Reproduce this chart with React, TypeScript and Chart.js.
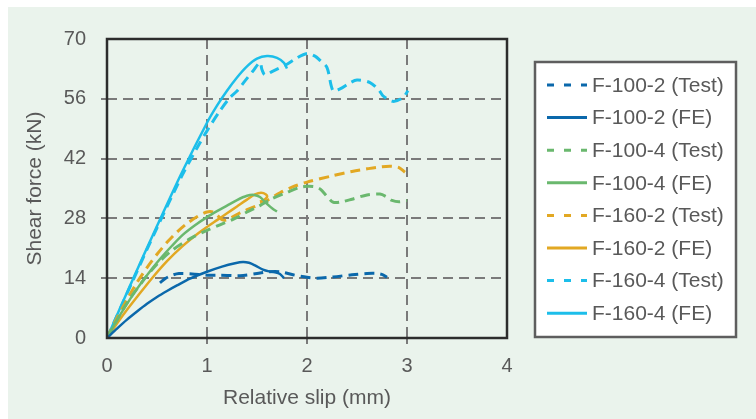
import { useEffect, useRef } from "react";
import { Chart, registerables } from "chart.js";
Chart.register(...registerables);

const xTitle = "Relative slip (mm)";
const yTitle = "Shear force (kN)";
const yTickValues = [0, 14, 28, 42, 56, 70];
const xTickValues = [0, 1, 2, 3, 4];

const seriesNames = [
  "F-100-2 (Test)", "F-100-2 (FE)",
  "F-100-4 (Test)", "F-100-4 (FE)",
  "F-160-2 (Test)", "F-160-2 (FE)",
  "F-160-4 (Test)", "F-160-4 (FE)",
];
const seriesColors = ["#0B68AB", "#0B68AB", "#6AB86E", "#6AB86E", "#E2A823", "#E2A823", "#1CBEEA", "#1CBEEA"];
const seriesDashed = [true, false, true, false, true, false, true, false];

const slip100_2T = [0.53, 0.58, 0.65, 0.72, 0.85, 1.0, 1.13, 1.33, 1.5, 1.62, 1.73, 1.86, 2.0, 2.1, 2.26, 2.45, 2.6, 2.7, 2.76, 2.8];
const force100_2T = [12.9, 13.9, 14.7, 15.1, 15.0, 14.7, 14.7, 14.6, 15.1, 15.5, 15.5, 14.8, 14.2, 14.0, 14.3, 14.8, 15.1, 15.1, 14.8, 14.2];
const slip100_2F = [0, 0.1, 0.2, 0.3, 0.4, 0.5, 0.6, 0.7, 0.83, 1.0, 1.15, 1.28, 1.36, 1.42, 1.48, 1.56, 1.62, 1.68, 1.73, 1.77];
const force100_2F = [0, 2.2, 4.3, 6.2, 8.0, 9.6, 11.0, 12.3, 13.9, 15.5, 16.7, 17.5, 17.8, 17.6, 17.0, 16.0, 15.6, 15.4, 15.0, 14.0];

const slip100_4T = [0, 0.1, 0.2, 0.38, 0.5, 0.65, 0.85, 1.0, 1.13, 1.28, 1.4, 1.53, 1.65, 1.8, 1.92, 2.0, 2.08, 2.13, 2.2, 2.26, 2.33, 2.45, 2.6, 2.73, 2.8, 2.85, 2.92, 3.0];
const force100_4T = [0, 4.2, 8.2, 14.0, 17.3, 20.5, 23.5, 25.2, 26.5, 28.0, 29.5, 31.0, 32.6, 34.1, 35.2, 35.5, 35.4, 34.9, 33.2, 31.8, 31.8, 32.5, 33.5, 33.7, 33.0, 32.2, 31.9, 32.2];
const slip100_4F = [0, 0.1, 0.2, 0.3, 0.4, 0.53, 0.65, 0.76, 0.88, 1.0, 1.1, 1.2, 1.3, 1.4, 1.47, 1.53, 1.6, 1.66, 1.7];
const force100_4F = [0, 4.2, 8.0, 11.5, 14.7, 18.5, 21.6, 24.2, 26.4, 28.3, 29.7, 31.0, 32.3, 33.3, 33.5, 33.0, 31.4, 30.2, 29.6];

const slip160_2T = [0, 0.1, 0.2, 0.3, 0.4, 0.5, 0.6, 0.7, 0.8, 0.9, 1.0, 1.06, 1.1, 1.15, 1.2, 1.33, 1.5, 1.6, 1.73, 1.85, 2.0, 2.26, 2.45, 2.6, 2.75, 2.85, 2.92, 2.98];
const force160_2T = [0, 4.7, 9.0, 13.0, 16.5, 19.6, 22.4, 24.8, 26.8, 28.4, 29.5, 29.5, 28.8, 27.7, 27.7, 29.3, 31.0, 32.2, 34.0, 35.3, 36.5, 38.0, 39.0, 39.6, 40.1, 40.2, 39.9, 38.8];
const slip160_2F = [0, 0.1, 0.2, 0.3, 0.45, 0.6, 0.75, 0.9, 1.0, 1.1, 1.2, 1.3, 1.4, 1.48, 1.54, 1.59, 1.6, 1.57, 1.53];
const force160_2F = [0, 3.4, 6.6, 9.6, 14.0, 18.0, 21.4, 24.3, 26.0, 27.6, 29.2, 30.8, 32.4, 33.6, 34.0, 33.6, 33.0, 32.3, 31.9];

const slip160_4T = [0, 0.25, 0.5, 0.75, 0.9, 1.0, 1.13, 1.23, 1.3, 1.38, 1.46, 1.53, 1.55, 1.58, 1.66, 1.8, 1.88, 2.0, 2.08, 2.13, 2.2, 2.26, 2.33, 2.42, 2.5, 2.63, 2.72, 2.76, 2.86, 2.96, 3.01];
const force160_4T = [0, 13.0, 25.8, 38.0, 44.5, 48.5, 53.2, 56.3, 57.8, 60.2, 62.5, 64.5, 62.8, 61.6, 62.5, 64.1, 65.3, 66.6, 66.0, 65.0, 63.3, 57.9, 58.3, 59.6, 60.4, 59.8, 58.0, 56.7, 55.4, 56.3, 57.9];
const slip160_4F = [0, 0.25, 0.5, 0.75, 1.0, 1.1, 1.2, 1.3, 1.4, 1.5, 1.6, 1.7, 1.77, 1.8];
const force160_4F = [0, 13.3, 26.2, 38.8, 50.4, 54.4, 57.9, 61.0, 63.6, 65.4, 66.0, 65.6, 64.4, 63.1];

const slipSeries = [slip100_2T, slip100_2F, slip100_4T, slip100_4F, slip160_2T, slip160_2F, slip160_4T, slip160_4F];
const forceSeries = [force100_2T, force100_2F, force100_4T, force100_4F, force160_2T, force160_2F, force160_4T, force160_4F];

const FONT = '"Liberation Sans", Arial, Helvetica, sans-serif';
const TEXT = "#595959";

const overlay = {
  id: "overlay",
  afterDraw(chart: any) {
    const { ctx, chartArea: a } = chart;
    ctx.save();
    ctx.setLineDash([]);
    ctx.strokeStyle = "#2c2c2c";
    ctx.lineWidth = 2.5;
    ctx.strokeRect(a.left, a.top, a.right - a.left, a.bottom - a.top);

    ctx.fillStyle = TEXT;
    ctx.font = `21px ${FONT}`;
    ctx.textAlign = "center";
    ctx.textBaseline = "middle";
    ctx.fillText(xTitle, (a.left + a.right) / 2, 391);
    ctx.save();
    ctx.translate(27, (a.top + a.bottom) / 2);
    ctx.rotate(-Math.PI / 2);
    ctx.fillText(yTitle, 0, 0);
    ctx.restore();

    // legend
    const lx = 527, ly = 55, lw = 201, lh = 275;
    ctx.fillStyle = "#ffffff";
    ctx.fillRect(lx, ly, lw, lh);
    ctx.strokeStyle = "#5e5e5e";
    ctx.lineWidth = 2.5;
    ctx.strokeRect(lx, ly, lw, lh);
    ctx.textAlign = "left";
    seriesNames.forEach((name, i) => {
      const y = 78 + i * 32.6;
      ctx.strokeStyle = seriesColors[i];
      ctx.lineWidth = 3;
      ctx.setLineDash(seriesDashed[i] ? [7, 10] : []);
      ctx.beginPath();
      ctx.moveTo(539, y);
      ctx.lineTo(579, y);
      ctx.stroke();
      ctx.setLineDash([]);
      ctx.fillStyle = TEXT;
      ctx.fillText(name, 584, y + 1);
    });
    ctx.restore();
  },
};

export default function App() {
  const ref = useRef<HTMLCanvasElement>(null);
  useEffect(() => {
    const gridColor = (c: any) => {
      const v = c.tick ? c.tick.value : null;
      return v === 0 || v === 70 || v === 4 ? "rgba(0,0,0,0)" : "#7a7a7a";
    };
    const chart = new Chart(ref.current!, {
      type: "line",
      data: {
        datasets: seriesNames.map((name, i) => ({
          label: name,
          data: slipSeries[i].map((x, j) => ({ x, y: forceSeries[i][j] })),
          borderColor: seriesColors[i],
          backgroundColor: seriesColors[i],
          borderWidth: seriesDashed[i] ? 3 : 2.5,
          borderDash: seriesDashed[i] ? [10, 6] : [],
          pointRadius: 0,
          tension: 0.3,
          fill: false,
        })),
      },
      options: {
        animation: false,
        responsive: false,
        devicePixelRatio: 1,
        layout: { padding: { left: 0, top: 32, right: 249, bottom: 0 } },
        plugins: { legend: { display: false }, tooltip: { enabled: false } },
        scales: {
          x: {
            type: "linear",
            min: 0,
            max: 4,
            afterBuildTicks: (s: any) => { s.ticks = xTickValues.map((v) => ({ value: v })); },
            afterFit: (s: any) => { s.height = 81; },
            grid: { color: gridColor, lineWidth: 2, tickLength: 6, drawTicks: true },
            border: { display: false, dash: [10, 6] },
            ticks: { color: TEXT, font: { family: FONT, size: 20 }, padding: 10, maxRotation: 0 },
          },
          y: {
            type: "linear",
            min: 0,
            max: 70,
            afterBuildTicks: (s: any) => { s.ticks = yTickValues.map((v) => ({ value: v })); },
            afterFit: (s: any) => { s.width = 99; },
            grid: { color: gridColor, lineWidth: 2, tickLength: 6, drawTicks: true },
            border: { display: false, dash: [10, 6] },
            ticks: { color: TEXT, font: { family: FONT, size: 20 }, padding: 15 },
          },
        },
      },
      plugins: [overlay],
    });
    return () => chart.destroy();
  }, []);
  return (
    <div style={{ position: "absolute", left: 8, top: 7, width: 748, height: 412, background: "#EAF3EC" }}>
      <canvas ref={ref} width={748} height={412} style={{ display: "block" }} />
    </div>
  );
}
